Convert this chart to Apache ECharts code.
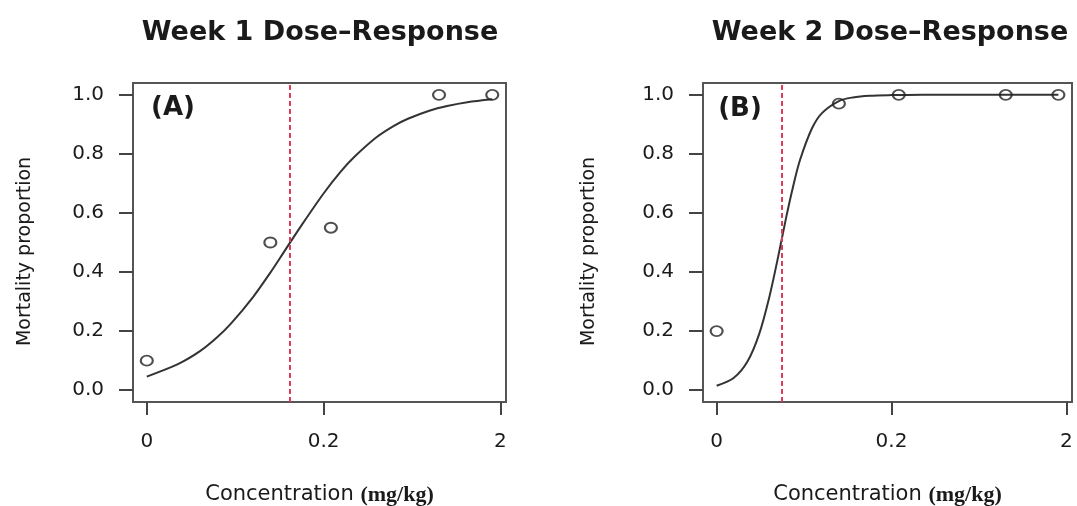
<!DOCTYPE html>
<html>
<head>
<meta charset="utf-8">
<script src="https://cdn.jsdelivr.net/npm/echarts@6/dist/echarts.min.js"></script>
<style>
  html, body { margin: 0; padding: 0; background: #fff; }
  #chart { width: 1077px; height: 506px; }
</style>
</head>
<body>
<div id="chart"></div>
<script>
// concentrations (mg/kg) of the observed points
const doses = [0, 0.1, 0.22, 0.9, 1.8]
const week1 = [0.1, 0.5, 0.55, 1.0, 1.0]
const week2 = [0.2, 0.97, 1.0, 1.0, 1.0]

// fitted curves
const curveX1 = [0.02, 0.03, 0.04, 0.05, 0.06, 0.08, 0.1, 0.12, 0.15, 0.2, 0.25, 0.3, 0.4, 0.5, 0.6, 0.8, 1.0, 1.3, 1.8]
const curveY1 = [0.046, 0.088, 0.132, 0.179, 0.226, 0.316, 0.398, 0.47, 0.558, 0.666, 0.74, 0.791, 0.857, 0.895, 0.919, 0.947, 0.962, 0.975, 0.985]
const curveX2 = [0.02, 0.025, 0.03, 0.035, 0.04, 0.045, 0.05, 0.055, 0.06, 0.07, 0.08, 0.1, 0.12, 0.15, 0.2, 0.3, 0.5, 1.0, 1.8]
const curveY2 = [0.015, 0.041, 0.097, 0.19, 0.315, 0.453, 0.586, 0.695, 0.78, 0.885, 0.938, 0.979, 0.991, 0.997, 0.999, 1.0, 1.0, 1.0, 1.0]

// LC50 (dashed red line)
const ed50 = [0.129, 0.047]

const xTicks = [0, 0.2, 2]
const xTickLabels = ['0', '0.2', '2']
const yTicks = [0, 0.2, 0.4, 0.6, 0.8, 1.0]
const titles = ['Week 1 Dose\u2013Response', 'Week 2 Dose\u2013Response']
const panelTags = ['(A)', '(B)']

// log axis, "0" sits where 0.02 would be
const pos = c => Math.log10(Math.max(c, 0.02) / 0.02)

const grids = [
  { left: 133, top: 83, width: 373, height: 319 },
  { left: 703, top: 83, width: 369, height: 319 }
]
const yNameGap = [98, 104]

const numFont = 'DejaVu Sans'
const ink = '#1a1a1a'

function xAxisFor(i){
  return {
    type: 'value', gridIndex: i,
    min: -0.078, max: 2.032,
    splitLine: { show: false },
    axisLine: { show: false, onZero: false },
    axisTick: { show: true, length: 13, customValues: xTicks.map(pos), lineStyle: { color: '#444', width: 2 } },
    axisLabel: {
      customValues: xTicks.map(pos),
      margin: 30,
      color: ink, fontFamily: numFont, fontSize: 20,
      formatter: v => {
        const k = xTicks.findIndex(t => Math.abs(pos(t) - v) < 1e-6)
        return k >= 0 ? xTickLabels[k] : ''
      }
    },
    name: '{a|Concentration }{b|(mg/kg)}',
    nameLocation: 'middle',
    nameGap: 82,
    nameTextStyle: {
      rich: {
        a: { fontFamily: numFont, fontSize: 21, color: ink },
        b: { fontFamily: 'Liberation Serif', fontWeight: 'bold', fontSize: 22, color: ink }
      }
    }
  }
}

function yAxisFor(i){
  return {
    type: 'value', gridIndex: i,
    min: -0.04, max: 1.04,
    splitLine: { show: false },
    axisLine: { show: false, onZero: false },
    axisTick: { show: true, length: 14, customValues: yTicks, lineStyle: { color: '#444', width: 2 } },
    axisLabel: {
      customValues: yTicks,
      margin: 29,
      color: ink, fontFamily: numFont, fontSize: 20,
      formatter: v => v.toFixed(1)
    },
    name: 'Mortality proportion',
    nameLocation: 'middle',
    nameRotate: 90,
    nameGap: yNameGap[i],
    nameTextStyle: { fontFamily: numFont, fontSize: 19, color: ink, padding: [0, 18, 0, 0] }
  }
}

function seriesFor(i, obs, cx, cy){
  return [
    {
      type: 'line', xAxisIndex: i, yAxisIndex: i,
      data: cx.map((c, k) => [pos(c), cy[k]]),
      smooth: 0.3,
      showSymbol: false,
      lineStyle: { color: '#333', width: 2 },
      markLine: {
        silent: true, symbol: ['none', 'none'],
        label: { show: false },
        lineStyle: { color: '#e03a5c', width: 2, type: [5, 3] },
        data: [{ xAxis: pos(ed50[i]) }]
      },
      z: 3
    },
    {
      type: 'scatter', xAxisIndex: i, yAxisIndex: i,
      data: doses.map((c, k) => [pos(c), obs[k]]),
      symbol: 'circle', symbolSize: [12, 10],
      itemStyle: { color: 'rgba(255,255,255,0)', borderColor: '#222', borderWidth: 2 },
      z: 4
    }
  ]
}

const chart = echarts.init(document.getElementById('chart'))
const option = {
  animation: false,
  backgroundColor: '#fff',
  grid: grids.map(g => Object.assign({
    show: true, borderColor: '#555', borderWidth: 2, backgroundColor: 'transparent',
    containLabel: false, outerBoundsMode: 'none'
  }, g)),
  xAxis: [xAxisFor(0), xAxisFor(1)],
  yAxis: [yAxisFor(0), yAxisFor(1)],
  series: [].concat(seriesFor(0, week1, curveX1, curveY1), seriesFor(1, week2, curveX2, curveY2)),
  graphic: [
    { type: 'text', x: 320, y: 33, style: { text: titles[0], align: 'center', verticalAlign: 'middle', font: 'bold 27px "DejaVu Sans"', fill: ink } },
    { type: 'text', x: 890, y: 33, style: { text: titles[1], align: 'center', verticalAlign: 'middle', font: 'bold 27px "DejaVu Sans"', fill: ink } },
    { type: 'text', x: 173, y: 108, style: { text: panelTags[0], align: 'center', verticalAlign: 'middle', font: 'bold 26px "DejaVu Sans"', fill: ink } },
    { type: 'text', x: 740, y: 109, style: { text: panelTags[1], align: 'center', verticalAlign: 'middle', font: 'bold 26px "DejaVu Sans"', fill: ink } }
  ]
}
chart.setOption(option)
</script>
</body>
</html>
